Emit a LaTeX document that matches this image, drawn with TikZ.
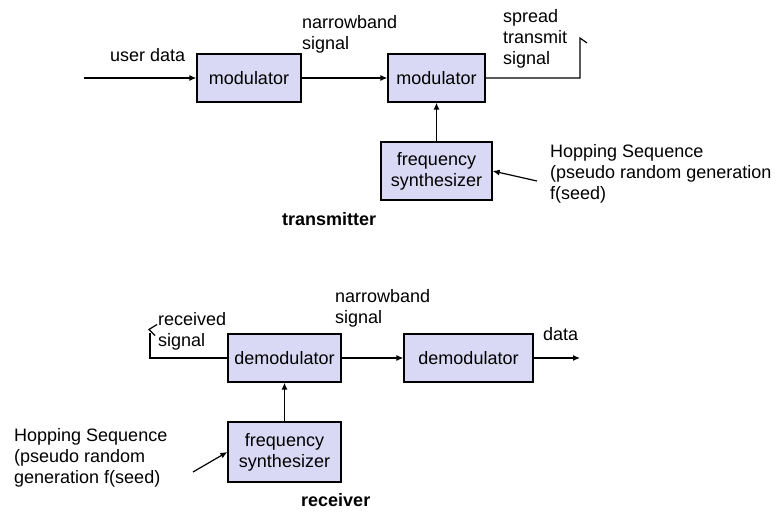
\documentclass[tikz,border=0pt]{standalone}
\usepackage{fontspec}
\setmainfont{Liberation Sans}
\usetikzlibrary{arrows.meta}
\definecolor{boxfill}{RGB}{217,217,245}
\begin{document}
\begin{tikzpicture}[x=1pt,y=-1pt,
  every node/.style={font=\fontsize{18}{21}\selectfont},
  block/.style={draw=black,fill=boxfill,line width=1.3pt,rectangle,inner sep=0pt,align=center},
  lbl/.style={anchor=base west,inner sep=0pt,align=left},
  bold/.style={anchor=base west,inner sep=0pt,font=\fontsize{18}{21}\selectfont\bfseries},
  arr/.style={line width=1.2pt,-{Latex[length=7pt,width=6pt]}},
  wire/.style={line width=1.2pt}]
\useasboundingbox (0,0) rectangle (781,521);
% transmitter
\node[block,minimum width=104pt,minimum height=48pt] (mod1) at (249,78) {modulator};
\node[block,minimum width=97pt,minimum height=48pt] (mod2) at (436.5,78) {modulator};
\node[block,minimum width=111pt,minimum height=58pt] (syn1) at (436.5,171) {frequency\\synthesizer};
\coordinate (ud) at (84,78);
\coordinate (st1) at (580,78);
\coordinate (st2) at (580,38);
\coordinate (st3) at (587,43);
\coordinate (hs1) at (537,181);
\draw[arr] (ud) -- (mod1);
\draw[arr] (mod1) -- (mod2);
\draw[wire] (mod2.east) -- (st1) -- (st2) -- (st3);
\draw[arr] (syn1) -- (mod2);
\draw[arr] (hs1) -- (syn1.east);
\node[lbl] (t1) at (110,62) {user data};
\node[lbl] (t2) at (302,50) {narrowband\\signal};
\node[lbl] (t3) at (503,65) {spread\\transmit\\signal};
\node[lbl] (t4) at (550,200) {Hopping Sequence\\(pseudo random generation\\f(seed)};
\node[bold] (t5) at (282,226) {transmitter};
% receiver
\node[block,minimum width=113pt,minimum height=48pt] (dem1) at (284.5,358) {demodulator};
\node[block,minimum width=129pt,minimum height=48pt] (dem2) at (468.5,358) {demodulator};
\node[block,minimum width=113pt,minimum height=60pt] (syn2) at (284.5,452) {frequency\\synthesizer};
\coordinate (rs1) at (150,358);
\coordinate (rs2) at (150,333);
\coordinate (rs3) at (157,324.5);
\coordinate (rs4) at (149,329.5);
\coordinate (rs5) at (155,335.5);
\coordinate (dt) at (580,358);
\coordinate (hs2) at (193,472);
\draw[wire] (dem1.west) -- (rs1) -- (rs2);
\draw[wire] (rs3) -- (rs4) -- (rs5);
\draw[arr] (dem1) -- (dem2);
\draw[arr] (dem2.east) -- (dt);
\draw[arr] (syn2) -- (dem1);
\draw[arr] (hs2) -- (syn2.west);
\node[lbl] (r1) at (158,346) {received\\signal};
\node[lbl] (r2) at (335,323) {narrowband\\signal};
\node[lbl] (r3) at (543,340) {data};
\node[lbl] (r4) at (14,483) {Hopping Sequence\\(pseudo random\\generation f(seed)};
\node[bold] (r5) at (301,506) {receiver};
\end{tikzpicture}
\end{document}
